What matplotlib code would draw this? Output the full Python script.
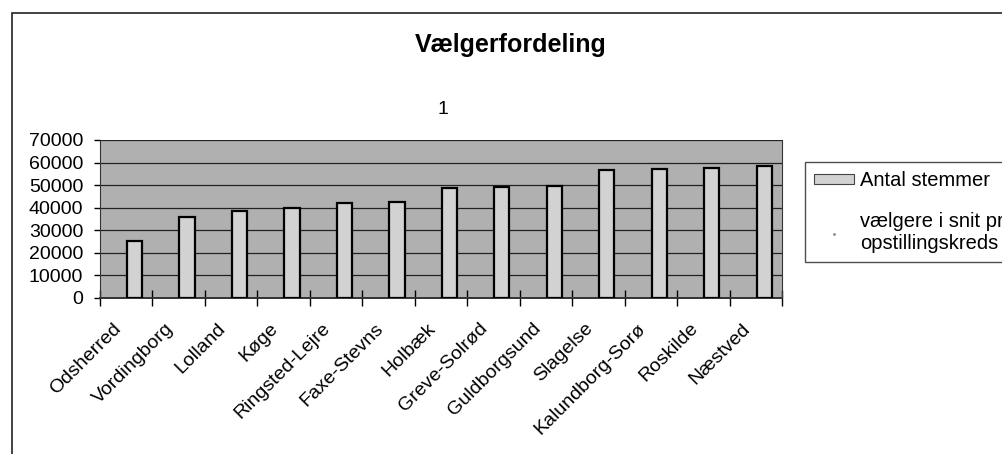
import matplotlib.pyplot as plt
from matplotlib.patches import Patch, Rectangle
from matplotlib.lines import Line2D
from matplotlib.transforms import ScaledTranslation, blended_transform_factory
import numpy as np

plt.rcParams['font.family'] = ['Liberation Sans', 'DejaVu Sans']

# ===== DATA =====
kredse = ['Odsherred', 'Vordingborg', 'Lolland', 'Køge', 'Ringsted-Lejre',
          'Faxe-Stevns', 'Holbæk', 'Greve-Solrød', 'Guldborgsund', 'Slagelse',
          'Kalundborg-Sorø', 'Roskilde', 'Næstved']
antal_stemmer = [25400, 35800, 38600, 39700, 42000, 42700, 48600,
                 49200, 49400, 56700, 57200, 57800, 58600]
yticks = [0, 10000, 20000, 30000, 40000, 50000, 60000, 70000]

W, H = 1002, 454
fig = plt.figure(figsize=(W / 100, H / 100), dpi=100)

# outer chart border
fig.patches.append(Rectangle((11.5 / W, -0.02), 1.05, 1 - 12.5 / H + 0.02,
                             transform=fig.transFigure, fill=False,
                             edgecolor='#222222', linewidth=1.2))

ax = fig.add_axes([100 / W, (H - 298) / H, 682 / W, 158 / H])
ax.set_facecolor('#b0b0b0')

x = np.arange(len(kredse))
ax.bar(x + 0.16, antal_stemmer, width=0.29, color='#d2d2d2',
       edgecolor='black', linewidth=1.6, zorder=3)

ax.set_xlim(-0.5, len(kredse) - 0.5)
ax.set_ylim(0, 70000)
ax.set_yticks(yticks)
ax.set_yticklabels([str(v) for v in yticks], fontsize=14)
ax.yaxis.grid(True, color='#222222', linewidth=0.9, zorder=1)
ax.set_axisbelow(True)

# ticks sit between the categories, labels drawn as rotated texts
ax.set_xticks(np.arange(len(kredse) + 1) - 0.5)
ax.set_xticklabels([])
lbl_tr = blended_transform_factory(ax.transData, ax.transAxes) + \
    ScaledTranslation(-8 / 100, -28 / 100, fig.dpi_scale_trans)
for xi, name in zip(x, kredse):
    ax.text(xi, 0, name, transform=lbl_tr, rotation=45, ha='right',
            va='center', rotation_mode='anchor', fontsize=14, clip_on=False)

ax.tick_params(axis='x', direction='inout', length=11, width=1)
ax.tick_params(axis='y', direction='out', length=4, width=1, pad=8)

ax.spines['top'].set_visible(False)
for s in ['left', 'bottom', 'right']:
    ax.spines[s].set_color('#333333')
ax.spines['bottom'].set_linewidth(1.4)

fig.text(511 / W, 1 - 45 / H, 'Vælgerfordeling', ha='center', va='center',
         fontsize=18, fontweight='bold')
fig.text(443 / W, 1 - 110 / H, '1', ha='center', va='center', fontsize=14)

handles = [Patch(facecolor='#d2d2d2', edgecolor='#444444', linewidth=0.8),
           Line2D([], [], linestyle='none', marker='.', markersize=2,
                  color='#888888')]
labels = ['Antal stemmer', 'vælgere i snit pr\nopstillingskreds']
fig.legend(handles, labels, loc='upper left',
           bbox_to_anchor=(805 / W, 1 - 162 / H), fontsize=14.5,
           frameon=True, fancybox=False, edgecolor='#222222',
           borderaxespad=0, borderpad=0.45, labelspacing=1.1,
           handlelength=2.0, handleheight=0.4, handletextpad=0.3)

fig.savefig('out.png', dpi=100)
